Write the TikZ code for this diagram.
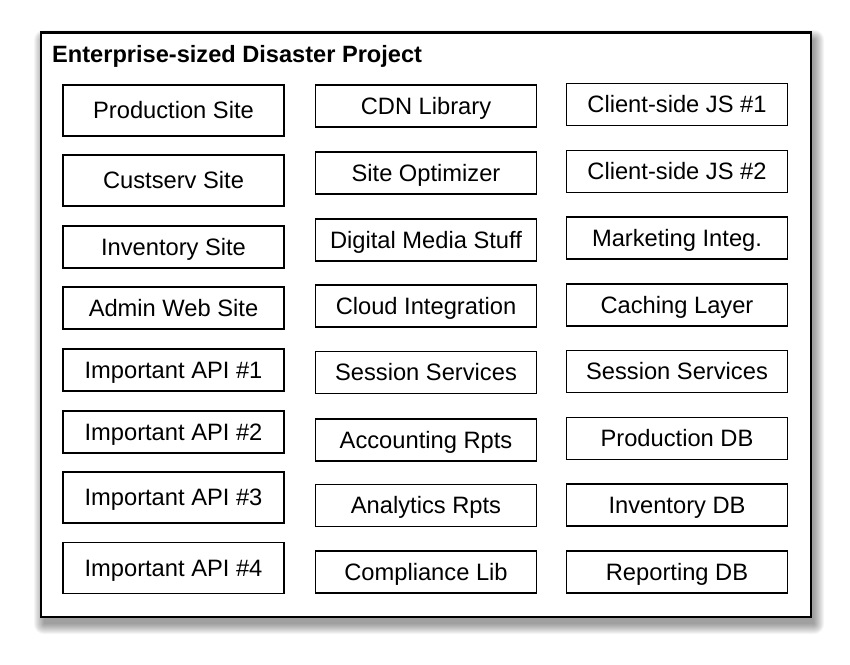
\documentclass[tikz,border=0pt]{standalone}
\usepackage{fontspec}
\setmainfont{Liberation Sans}
\begin{document}
\begin{tikzpicture}[x=1pt,y=-1pt,
  unit/.style={draw=black, line width=1.9pt, fill=white, inner sep=0pt,
    minimum width=221pt, font=\fontsize{23.7}{28}\selectfont,
    text height=16.9pt, text depth=0pt},
  tall/.style={unit, minimum height=51pt},
  short/.style={unit, minimum height=42pt}]
  \useasboundingbox (0,0) rectangle (850,664);
  \fill[white] (0,0) rectangle (850,664);
  % soft drop shadow of the frame
  \foreach \i in {0,...,10}
    \fill[black, opacity=0.04, rounded corners=\i pt]
      ({44-\i},{40-\i}) rectangle ({814+\i},{624+\i});
  % project frame
  \node[draw=black, line width=2.3pt, fill=white, inner sep=0pt,
    minimum width=770pt, minimum height=584.5pt] (frame) at (426,324.75) {};
  \node[anchor=base west, inner sep=0pt, font=\fontsize{23.6}{28}\selectfont\bfseries]
    (title) at (52,62) {Enterprise-sized Disaster Project};
  % first column
  \node[tall]  (prodsite) at (173.5,110.5) {Production Site};
  \node[tall]  (custserv) at (173.5,180.5) {Custserv Site};
  \node[short] (invsite)  at (173.5,247)   {Inventory Site};
  \node[short] (admin)    at (173.5,308)   {Admin Web Site};
  \node[short] (apione)   at (173.5,370)   {Important API \#1};
  \node[short] (apitwo)   at (173.5,432)   {Important API \#2};
  \node[tall]  (apithree) at (173.5,497.5) {Important API \#3};
  \node[tall]  (apifour)  at (173.5,568)   {Important API \#4};
  % second column
  \node[short] (cdn)        at (426,106)   {CDN Library};
  \node[short] (siteopt)    at (426,173)   {Site Optimizer};
  \node[short] (media)      at (426,240)   {Digital Media Stuff};
  \node[short] (cloud)      at (426,306)   {Cloud Integration};
  \node[short] (sessionA)   at (426,372.5) {Session Services};
  \node[short] (accounting) at (426,440)   {Accounting Rpts};
  \node[short] (analytics)  at (426,505.5) {Analytics Rpts};
  \node[short] (compliance) at (426,572)   {Compliance Lib};
  % third column
  \node[short] (jsone)     at (677,104.5) {Client-side JS \#1};
  \node[short] (jstwo)     at (677,171.5) {Client-side JS \#2};
  \node[short] (marketing) at (677,238)   {Marketing Integ.};
  \node[short] (caching)   at (677,305)   {Caching Layer};
  \node[short] (sessionB)  at (677,371.5) {Session Services};
  \node[short] (proddb)    at (677,438.5) {Production DB};
  \node[short] (invdb)     at (677,505)   {Inventory DB};
  \node[short] (repdb)     at (677,572)   {Reporting DB};
\end{tikzpicture}
\end{document}
